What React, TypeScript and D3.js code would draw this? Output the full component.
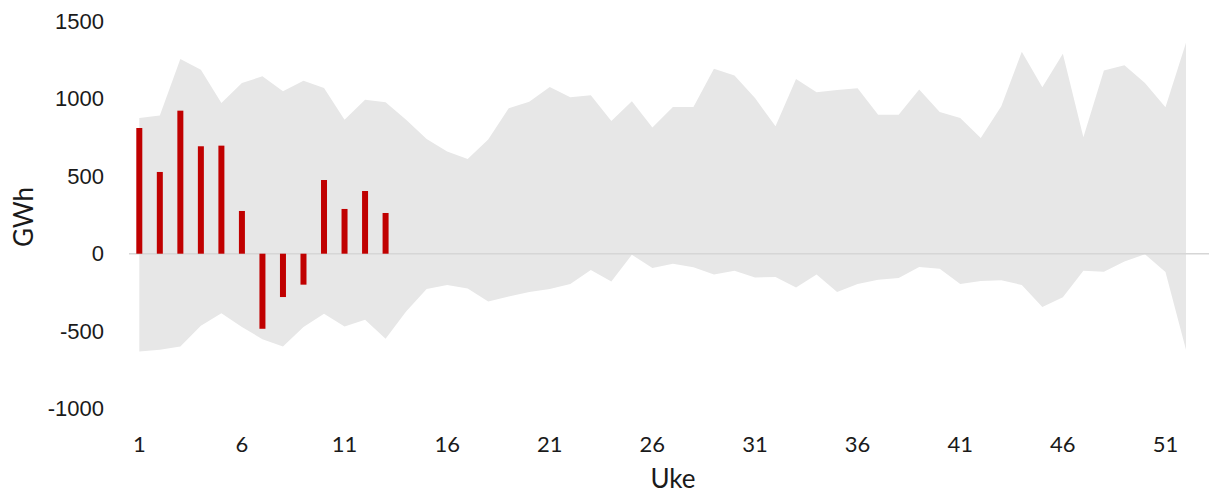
import React from "react";
import * as d3 from "d3";

const weeks: number[] = Array.from({ length: 52 }, (_, i) => i + 1);
const maxValues: number[] = [
  877, 892, 1258, 1189, 974, 1103, 1146, 1049, 1118, 1071, 866, 995, 978,
  866, 741, 661, 612, 737, 939, 981, 1077, 1010, 1023, 858, 985, 815,
  948, 948, 1194, 1151, 1006, 823, 1129, 1043, 1058, 1069, 898, 898, 1060,
  916, 877, 748, 952, 1304, 1075, 1291, 752, 1183, 1217, 1103, 946, 1362,
];
const minValues: number[] = [
  -631, -621, -599, -465, -384, -474, -552, -599, -474, -388, -470, -427, -549,
  -373, -228, -202, -224, -308, -276, -248, -228, -196, -105, -179, -6, -92,
  -65, -88, -134, -110, -153, -151, -218, -134, -248, -196, -168, -157, -86,
  -97, -196, -177, -172, -202, -345, -282, -110, -116, -50, -3, -118, -621,
];
const barWeeks: number[] = [1, 2, 3, 4, 5, 6, 7, 8, 9, 10, 11, 12, 13];
const barValues: number[] = [812, 528, 924, 694, 698, 276, -485, -280, -200, 476, 289, 405, 263];
const yTicks: number[] = [-1000, -500, 0, 500, 1000, 1500];
const xTicks: number[] = [1, 6, 11, 16, 21, 26, 31, 36, 41, 46, 51];

export default function App() {
  const W = 1209;
  const H = 493;
  const x = d3.scaleLinear().domain([1, 52]).range([139.3, 1186]);
  const y = d3.scaleLinear().domain([-1000, 1500]).range([408.5, 21.5]);

  const area = d3
    .area<number>()
    .x((d) => x(d))
    .y0((_, i) => y(minValues[i]))
    .y1((_, i) => y(maxValues[i]));

  const tickFont = "'Liberation Sans', Arial, sans-serif";
  const xFont = "Lato, 'Noto Sans', sans-serif";

  return (
    <svg
      width={W}
      height={H}
      style={{ position: "absolute", left: 0, top: 0, display: "block", background: "#fff" }}
    >
      <path d={area(weeks) || ""} fill="#e7e7e7" />
      <line x1={129} x2={1209} y1={y(0)} y2={y(0)} stroke="#d6d6d6" strokeWidth={1.5} />
      {barWeeks.map((w, i) => {
        const v = barValues[i];
        const y0 = y(0);
        const yv = y(v);
        return (
          <rect
            key={w}
            x={x(w) - 3}
            width={6}
            y={Math.min(y0, yv)}
            height={Math.abs(yv - y0)}
            fill="#c00000"
          />
        );
      })}
      {yTicks.map((t) => (
        <text
          key={t}
          x={104}
          y={y(t)}
          textAnchor="end"
          dominantBaseline="central"
          fontFamily={tickFont}
          fontSize={22}
          fill="#1a1a1a"
        >
          {t}
        </text>
      ))}
      {xTicks.map((t) => (
        <text
          key={t}
          x={x(t)}
          y={443}
          textAnchor="middle"
          dominantBaseline="central"
          fontFamily={xFont}
          fontSize={22}
          fill="#1a1a1a"
        >
          {t}
        </text>
      ))}
      <text
        x={673}
        y={478}
        textAnchor="middle"
        dominantBaseline="central"
        fontFamily={xFont}
        fontSize={26}
        fill="#1a1a1a"
      >
        Uke
      </text>
      <text
        transform={`translate(23,217) rotate(-90)`}
        textAnchor="middle"
        dominantBaseline="central"
        fontFamily={xFont}
        fontSize={26}
        fill="#1a1a1a"
      >
        GWh
      </text>
    </svg>
  );
}
